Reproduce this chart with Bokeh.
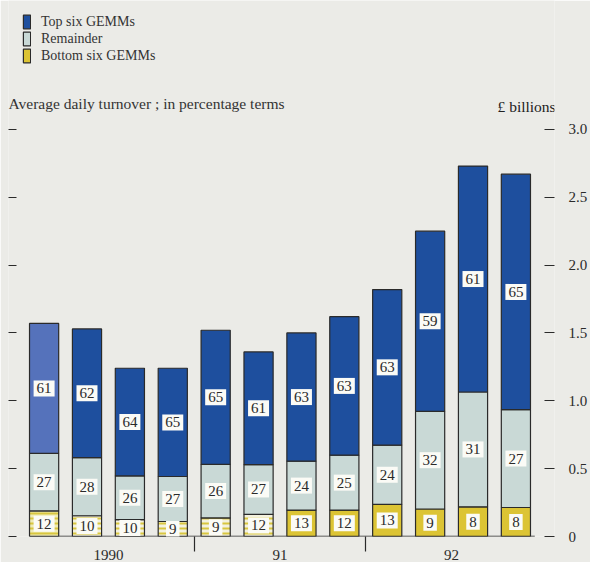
from bokeh.plotting import figure
from bokeh.models import (Range1d, LinearAxis, FixedTicker, Legend, LegendItem,
                          Label, ColumnDataSource)
from bokeh.embed import file_html
from bokeh.resources import INLINE
from bokeh.core.properties import value

# ---------------- data ----------------
quarters = [1, 2, 3, 4, 5, 6, 7, 8, 9, 10, 11, 12]
year_ticks = [2.5, 6.5, 10.5]
year_labels = ["1990", "91", "92"]
year_breaks = [4.5, 8.5]
totals = [1.57, 1.53, 1.24, 1.24, 1.52, 1.36, 1.50, 1.62, 1.82, 2.25, 2.73, 2.67]   # £ billions
top_pct = [61, 62, 64, 65, 65, 61, 63, 63, 63, 59, 61, 65]
rem_pct = [27, 28, 26, 27, 26, 27, 24, 25, 24, 32, 31, 27]
bot_pct = [12, 10, 10, 9, 9, 12, 13, 12, 13, 9, 8, 8]
y_ticks = [0, 0.5, 1.0, 1.5, 2.0, 2.5, 3.0]
y_tick_labels = ["0", "0.5", "1.0", "1.5", "2.0", "2.5", "3.0"]

# ---------------- style ----------------
BG = "#ebebe7"
BLUE = "#1e4f9e"
BLUE_FIRST = "#5572bb"
GREY = "#c9d9d6"
YELLOW = "#dcc434"
INK = "#2a2a2a"
FONT = value("Liberation Serif")
W = 0.68

top_colors = [BLUE_FIRST] + [BLUE] * 11
bot_fill = ["#efebb4"] + ["#f3f1de"] * 5 + [YELLOW] * 6
bot_hatch = ["horizontal_line"] * 6 + [" "] * 6

bottom_top, rem_top = [], []
for t, a, b, c in zip(totals, top_pct, rem_pct, bot_pct):
    s = a + b + c
    bottom_top.append(t * c / s)
    rem_top.append(t * (b + c) / s)

src = ColumnDataSource(dict(
    x=quarters, total=totals, btop=bottom_top, rtop=rem_top, zero=[0] * 12,
    top_color=top_colors, bot_fill=bot_fill, bot_hatch=bot_hatch,
    top_lab=[str(v) for v in top_pct], rem_lab=[str(v) for v in rem_pct],
    bot_lab=[str(v) for v in bot_pct],
    top_y=[(r + t) / 2 for r, t in zip(rem_top, totals)],
    rem_y=[(b + r) / 2 for b, r in zip(bottom_top, rem_top)],
    bot_y=[b / 2 for b in bottom_top],
))

p = figure(width=590, height=562, output_backend="svg", toolbar_location=None,
           x_range=Range1d(0.17, 12.9), y_range=Range1d(0, 3.95),
           y_axis_location="right",
           min_border_left=8, min_border_right=0, min_border_top=0, min_border_bottom=0,
           background_fill_color=BG, border_fill_color=BG, outline_line_color=None)
p.grid.visible = False

# bars
r_bot = p.vbar(x="x", width=W, bottom="zero", top="btop", source=src,
               fill_color="bot_fill", hatch_pattern="bot_hatch", hatch_color="#d8c640",
               hatch_scale=5, hatch_weight=2, line_color=INK, line_width=1.2)
r_rem = p.vbar(x="x", width=W, bottom="btop", top="rtop", source=src,
               fill_color=GREY, line_color=INK, line_width=1.2)
r_top = p.vbar(x="x", width=W, bottom="rtop", top="total", source=src,
               fill_color="top_color", line_color=INK, line_width=1.2)

# baseline
p.segment(x0=[quarters[0] - W / 2], y0=[0], x1=[quarters[-1] + W / 2 + 0.1], y1=[0],
          line_color=INK, line_width=1.5)

# value boxes
for ycol, lcol in (("top_y", "top_lab"), ("rem_y", "rem_lab"), ("bot_y", "bot_lab")):
    p.text(x="x", y=ycol, text=lcol, source=src, text_font=FONT, text_font_size="15px",
           text_color=INK, text_align="center", text_baseline="middle",
           background_fill_color="#fbfbf6", padding=3)

# right axis (£ billions)
ra = p.yaxis[0]
ra.ticker = FixedTicker(ticks=y_ticks)
ra.major_label_overrides = {k: v for k, v in zip(y_ticks, y_tick_labels)}
ra.axis_line_color = None
ra.major_tick_in = 10
ra.major_tick_out = 0
ra.minor_tick_line_color = None
ra.major_tick_line_color = INK
ra.major_tick_line_width = 1.2
ra.major_label_standoff = 14
ra.major_label_text_font = "Liberation Serif"
ra.major_label_text_font_size = "15px"
ra.major_label_text_color = INK

# left axis: unlabeled dashes
la = LinearAxis(ticker=FixedTicker(ticks=y_ticks), axis_line_color=None,
                major_tick_in=8, major_tick_out=0, minor_tick_line_color=None,
                major_tick_line_color=INK, major_tick_line_width=1.2,
                major_label_overrides={k: "" for k in y_ticks}, major_label_standoff=0)
p.add_layout(la, "left")

# x axis
xa = p.xaxis[0]
xa.ticker = FixedTicker(ticks=year_ticks, minor_ticks=year_breaks)
xa.major_label_overrides = {k: v for k, v in zip(year_ticks, year_labels)}
xa.axis_line_color = None
xa.major_tick_in = 0
xa.major_tick_out = 0
xa.minor_tick_in = 0
xa.minor_tick_out = 15
xa.minor_tick_line_color = INK
xa.minor_tick_line_width = 1.2
xa.major_label_standoff = -2
xa.major_label_text_font = "Liberation Serif"
xa.major_label_text_font_size = "15px"
xa.major_label_text_color = INK

# legend
legend = Legend(items=[LegendItem(label="Top six GEMMs", renderers=[r_top], index=2),
                       LegendItem(label="Remainder", renderers=[r_rem]),
                       LegendItem(label="Bottom six GEMMs", renderers=[r_bot], index=6)],
                location=(14, 472), glyph_width=9, glyph_height=17, label_height=17,
                spacing=0, padding=0, margin=0, label_standoff=10,
                border_line_color=None, background_fill_alpha=0,
                label_text_font="Liberation Serif", label_text_font_size="14px",
                label_text_color="#333333")
p.add_layout(legend)

# headers
p.add_layout(Label(x=0, y=433, x_units="screen", y_units="screen",
                   text="Average daily turnover ; in percentage terms",
                   text_font="Liberation Serif", text_font_size="15.5px",
                   text_color="#333333", text_baseline="middle"))
p.add_layout(Label(x=489, y=430, x_units="screen", y_units="screen",
                   text="£ billions", text_font="Liberation Serif",
                   text_font_size="15.5px", text_color="#222222",
                   text_baseline="middle"))

open("out.html", "w").write(file_html(p, INLINE))
